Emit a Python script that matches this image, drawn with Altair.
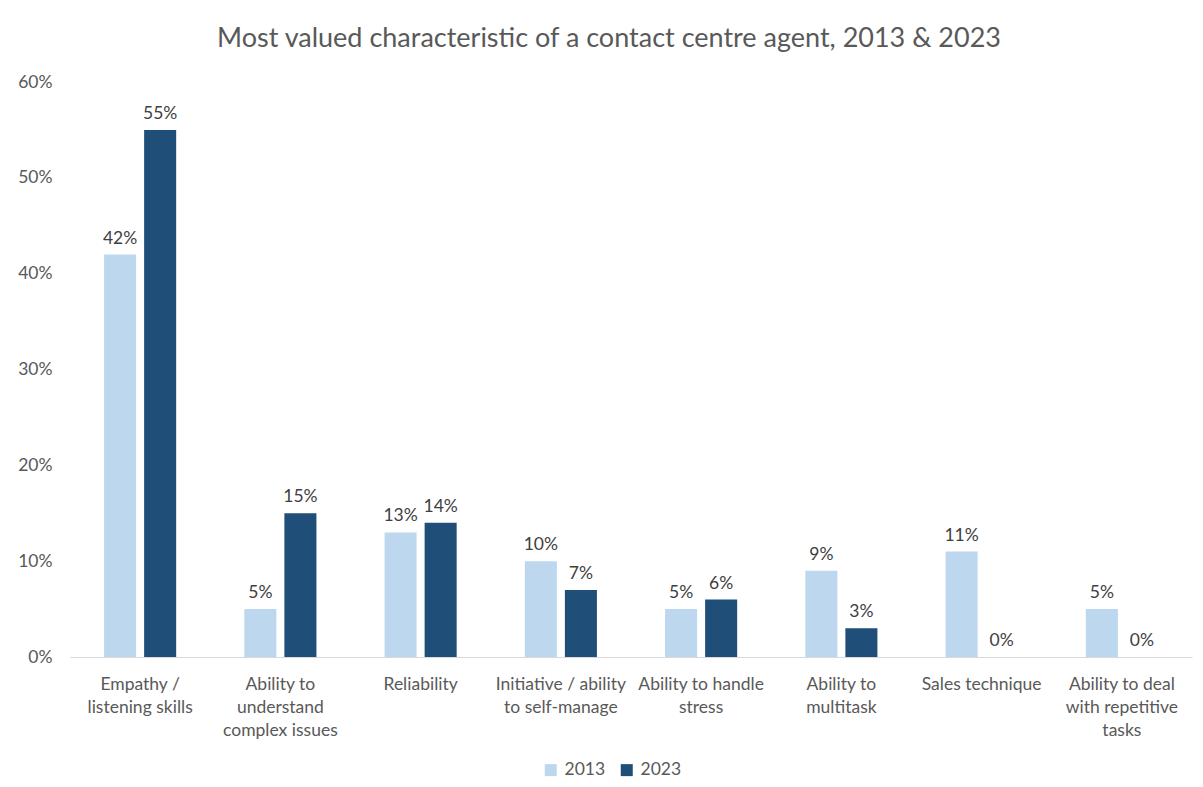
import altair as alt
import pandas as pd

categories = [
    "Empathy /|listening skills",
    "Ability to|understand|complex issues",
    "Reliability",
    "Initiative / ability|to self-manage",
    "Ability to handle|stress",
    "Ability to|multitask",
    "Sales technique",
    "Ability to deal|with repetitive|tasks",
]
values_2013 = [42, 5, 13, 10, 5, 9, 11, 5]
values_2023 = [55, 15, 14, 7, 6, 3, 0, 0]
years = ["2013", "2023"]
colors = ["#BDD7EE", "#1F4E79"]

rows = []
for c, a, b in zip(categories, values_2013, values_2023):
    rows.append({"cat": c, "year": "2013", "val": a / 100})
    rows.append({"cat": c, "year": "2023", "val": b / 100})
df = pd.DataFrame(rows)

FONT = "Lato"
TXT = "#595959"
FS = 17.5

x_enc = alt.X(
    "cat:N",
    sort=categories,
    title=None,
    scale=alt.Scale(paddingInner=0.486, paddingOuter=0.243),
    axis=alt.Axis(
        labelAngle=0,
        labelExpr="split(datum.value, '|')",
        labelFontSize=FS,
        labelColor=TXT,
        labelFont=FONT,
        labelLineHeight=23,
        labelPadding=18,
        ticks=False,
        domainColor="#D9D9D9",
        domainWidth=1,
        labelLimit=200,
    ),
)
xoff = alt.XOffset("year:N", sort=years, scale=alt.Scale(paddingInner=0.2))

base = alt.Chart(df).encode(x=x_enc, xOffset=xoff)

bars = base.mark_bar().encode(
    y=alt.Y(
        "val:Q",
        title=None,
        scale=alt.Scale(domain=[0, 0.6]),
        axis=alt.Axis(
            format=".0%",
            values=[0, 0.1, 0.2, 0.3, 0.4, 0.5, 0.6],
            grid=False,
            domain=False,
            ticks=False,
            labelFontSize=FS,
            labelColor=TXT,
            labelFont=FONT,
            labelPadding=18,
        ),
    ),
    color=alt.Color(
        "year:N",
        sort=years,
        scale=alt.Scale(domain=years, range=colors),
        legend=alt.Legend(
            title=None,
            orient="none",
            legendX=472,
            legendY=679,
            direction="horizontal",
            symbolType="square",
            symbolSize=144,
            symbolStrokeWidth=0,
            labelOffset=5,
            labelFontSize=FS,
            labelColor=TXT,
            labelFont=FONT,
            columnPadding=12,
        ),
    ),
)

labels = base.mark_text(
    baseline="bottom", dy=-7, fontSize=FS, font=FONT, color="#404040"
).encode(
    y=alt.Y("val:Q"),
    text=alt.Text("val:Q", format=".0%"),
)

chart = (
    alt.layer(bars, labels)
    .properties(
        width=1122,
        height=575,
        background="white",
        title=alt.TitleParams(
            "Most valued characteristic of a contact centre agent, 2013 & 2023",
            fontSize=27,
            fontWeight="normal",
            color=TXT,
            font=FONT,
            anchor="middle",
            dx=-22,
            offset=20,
        ),
        autosize=alt.AutoSizeParams(type="none"),
        padding={"left": 62, "top": 74, "right": 3, "bottom": 122},
    )
    .configure_view(strokeWidth=0)
)

chart.save("out.html", embed_options={"renderer": "svg", "actions": False})
